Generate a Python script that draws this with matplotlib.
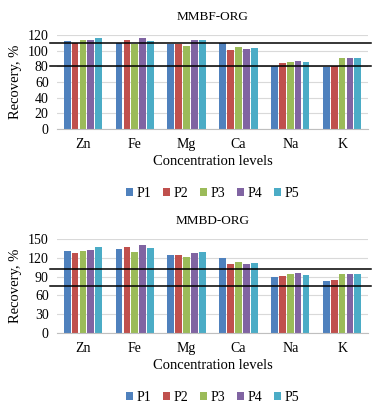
import numpy as np
import matplotlib.pyplot as plt

plt.rcParams['font.family'] = ['Liberation Serif', 'DejaVu Serif']

elements = ["Zn", "Fe", "Mg", "Ca", "Na", "K"]
series = ["P1", "P2", "P3", "P4", "P5"]
colors = ["#4F81BD", "#C0504D", "#9BBB59", "#8064A2", "#4BACC6"]

# MMBF-ORG recoveries, one list per series (Zn..K)
mmbf = {
    "P1": [112.8, 110, 109, 110, 81, 79.5],
    "P2": [110, 114, 109, 100.6, 84, 80],
    "P3": [113, 109, 106, 105, 86, 90],
    "P4": [113, 116.6, 113, 102, 87, 90.5],
    "P5": [115.8, 112, 113, 103.6, 85, 90.5],
}
mmbf_limits = [110, 80]

# MMBD-ORG recoveries
mmbd = {
    "P1": [131.6, 134.7, 124, 120, 89.5, 82.6],
    "P2": [128, 138, 125, 109.5, 91.6, 84.7],
    "P3": [131.6, 130, 120.5, 113, 94.7, 94.7],
    "P4": [133, 141, 128, 110.5, 95, 94.7],
    "P5": [137, 135, 129.5, 111.6, 93, 94.7],
}
mmbd_limits = [102, 75]

fig = plt.figure(figsize=(3.83, 4.09), dpi=100)
W, H = 383, 409


def panel(top, data, title, yticks, limits):
    # top: pixel row of the plot area top; plot height 94 px
    ax = fig.add_axes([57 / W, 1 - (top + 94) / H, 311 / W, 94 / H])
    x = np.arange(len(elements))
    for i, s in enumerate(series):
        ax.bar(x + (i - 2) * 0.152, data[s], width=0.13, color=colors[i], label=s, zorder=2)
    ax.set_xlim(-0.5, len(elements) - 0.5)
    ax.set_ylim(yticks[0], yticks[-1])
    ax.set_yticks(yticks)
    ax.set_xticks(x)
    ax.set_xticklabels(elements)
    ax.grid(axis="y", color="#D9D9D9", lw=0.8, zorder=0)
    for sp in ["top", "right", "left"]:
        ax.spines[sp].set_visible(False)
    ax.spines["bottom"].set_color("#BFBFBF")
    ax.tick_params(length=0, labelsize=10, pad=6)
    ax.tick_params(axis="x", pad=6.5)
    ax.set_ylabel("Recovery, %", fontsize=10.5, labelpad=4)
    ax.set_xlabel("Concentration levels", fontsize=10.5, labelpad=3)
    ax.set_title(title, fontsize=9.5, pad=11)
    for v in limits:
        ax.plot([-0.63, 5.56], [v, v], color="black", lw=1.1, clip_on=False, zorder=3)
    ax.legend(loc="upper center", bbox_to_anchor=(0.5, -0.48), ncol=5, frameon=False,
              fontsize=10, handlelength=0.55, handleheight=0.55, handletextpad=0.25,
              columnspacing=0.8)
    return ax


panel(35, mmbf, "MMBF-ORG", [0, 20, 40, 60, 80, 100, 120], mmbf_limits)
panel(239, mmbd, "MMBD-ORG", [0, 30, 60, 90, 120, 150], mmbd_limits)

fig.savefig("out.png", dpi=100)
